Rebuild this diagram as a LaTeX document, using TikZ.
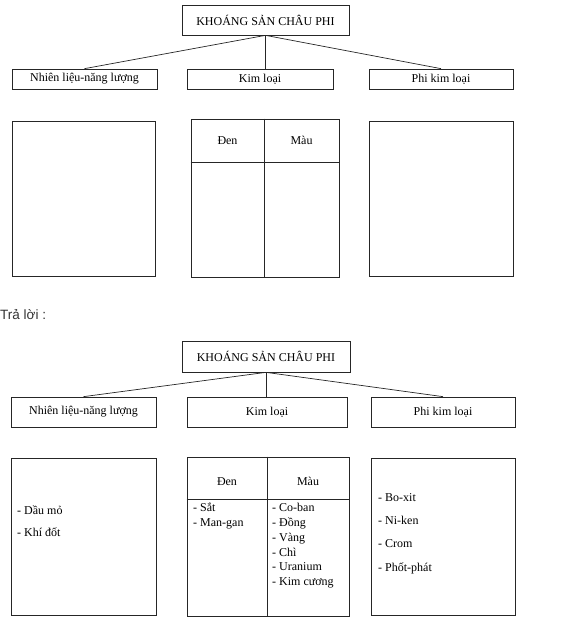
\documentclass[tikz,border=0pt]{standalone}
\usepackage{fontspec}
\setmainfont{Liberation Serif}
\setsansfont{Liberation Sans}
\usepackage{tikz}
\usetikzlibrary{calc}

\tikzset{
  box/.style={draw=black!85, line width=0.7pt, inner sep=0pt, font=\fontsize{12}{14}\selectfont},
  item/.style={anchor=west, inner sep=0pt, text height=8.5pt, text depth=2.5pt, font=\fontsize{12}{14}\selectfont},
  link/.style={draw=black!85, line width=0.7pt}
}

\begin{document}
\begin{tikzpicture}[x=1pt, y=-1pt]
  \useasboundingbox (0,0) rectangle (574,618);

  % ---- empty chart (question)
  \node[box, minimum width=167, minimum height=30] (qtitle) at (265.5,20) {KHOÁNG SẢN CHÂU PHI};
  \node[box, minimum width=145, minimum height=20] (qfuel) at (84.5,79) {Nhiên liệu-năng lượng};
  \node[box, minimum width=146, minimum height=20] (qmetal) at (260,79) {Kim loại};
  \node[box, minimum width=144, minimum height=20] (qnonmetal) at (441,79) {Phi kim loại};
  \draw[link] (qtitle.south) -- (qfuel.north);
  \draw[link] (qtitle.south) -- (qtitle.south |- qmetal.north);
  \draw[link] (qtitle.south) -- (qnonmetal.north);

  \node[box, minimum width=143, minimum height=155] (qfuelbox) at (83.5,198.5) {};
  \node[box, minimum width=148, minimum height=158] (qmetalbox) at (265,198) {};
  \node[box, minimum width=144, minimum height=155] (qnonbox) at (441,198.5) {};
  \draw[link] ($(qfuel.south)+(2.5,0)$) -- ($(qfuel.south)+(2.5,0)$ |- qfuelbox.north);
  \draw[link] ($(qnonmetal.south)+(7,0)$) -- ($(qnonmetal.south)+(7,0)$ |- qnonbox.north);
  \draw[link] (qmetalbox.west |- 0,162) -- (qmetalbox.east |- 0,162);
  \draw[link] ($(qmetalbox.north)+(-1,0)$) -- ($(qmetalbox.south)+(-1,0)$);
  \node[item, anchor=center] (qden) at (227.5,141) {Đen};
  \node[item, anchor=center] (qmau) at (301.5,141) {Màu};

  % ---- answer
  \node[anchor=west, inner sep=0pt, text=black!80, font=\sffamily\fontsize{13.5}{15}\selectfont] (answer) at (0,315) {Trả lời :};

  \node[box, minimum width=168, minimum height=31] (atitle) at (266,356.5) {KHOÁNG SẢN CHÂU PHI};
  \node[box, minimum width=145, minimum height=30] (afuel) at (83.5,412) {Nhiên liệu-năng lượng};
  \node[box, minimum width=160, minimum height=30] (ametal) at (267,412) {Kim loại};
  \node[box, minimum width=144, minimum height=30] (anonmetal) at (443,412) {Phi kim loại};
  \draw[link] (atitle.south) -- (afuel.north);
  \draw[link] (atitle.south) -- (atitle.south |- ametal.north);
  \draw[link] (atitle.south) -- (anonmetal.north);

  \node[box, minimum width=145, minimum height=157] (afuelbox) at (83.5,536.5) {};
  \node[box, minimum width=162, minimum height=159] (ametalbox) at (268,536.5) {};
  \node[box, minimum width=144, minimum height=157] (anonbox) at (443,536.5) {};
  \draw[link] ($(afuel.south)+(3.5,0)$) -- ($(afuel.south)+(3.5,0)$ |- afuelbox.north);
  \draw[link] ($(anonmetal.south)+(8,0)$) -- ($(anonmetal.south)+(8,0)$ |- anonbox.north);
  \draw[link] (ametalbox.west |- 0,499) -- (ametalbox.east |- 0,499);
  \draw[link] ($(ametalbox.north)+(-1,0)$) -- ($(ametalbox.south)+(-1,0)$);
  \node[item, anchor=center] (aden) at (227,482) {Đen};
  \node[item, anchor=center] (amau) at (308,482) {Màu};

  \node[item] (oil) at (17,511) {- Dầu mỏ};
  \node[item] (gas) at (17,533) {- Khí đốt};

  \foreach \y/\t in {508/- Sắt, 523/- Man-gan}
    \node[item] at (193,\y) {\t};
  \foreach \y/\t in {508/- Co-ban, 523/- Đồng, 538/- Vàng, 553/- Chì, 567/- Uranium, 582/- Kim cương}
    \node[item] at (272,\y) {\t};
  \foreach \y/\t in {498/- Bo-xit, 521/- Ni-ken, 544/- Crom, 568/- Phốt-phát}
    \node[item] at (378,\y) {\t};
\end{tikzpicture}
\end{document}
